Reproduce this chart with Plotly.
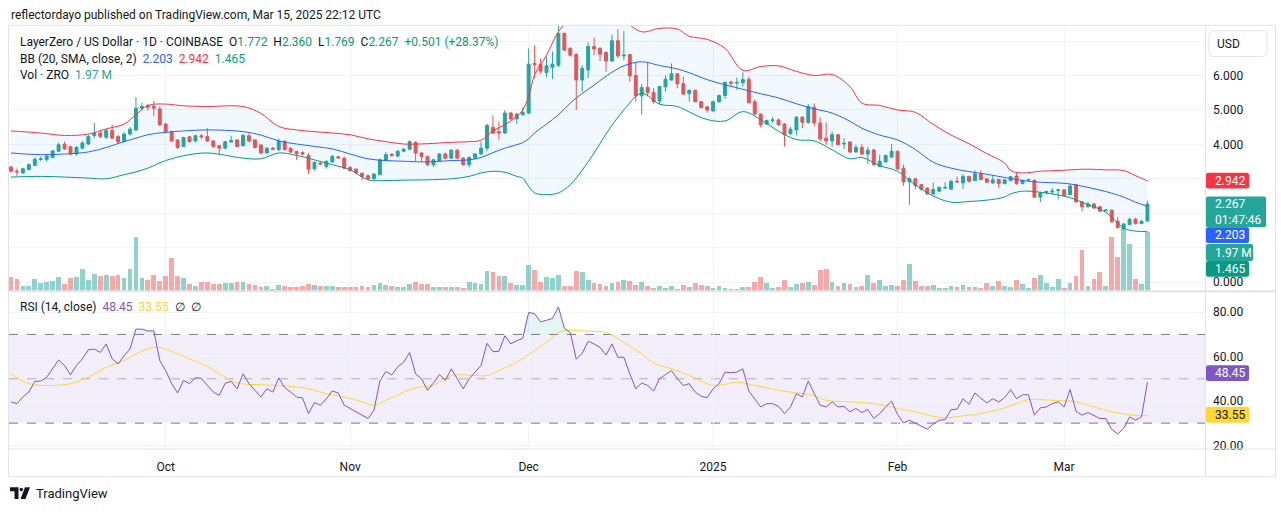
import plotly.graph_objects as go
import pandas as pd
import numpy as np

W, H = 1281, 515

dates = pd.date_range("2024-09-05", periods=192, freq="D")

opens = [3.34,3.22,3.17,3.27,3.39,3.56,3.56,3.62,3.80,4.00,
         3.93,3.72,3.89,4.01,4.26,4.33,4.21,4.40,4.23,4.09,
         4.30,4.42,5.05,5.12,5.10,5.03,4.59,4.37,4.13,3.94,
         4.22,4.10,4.25,4.23,4.10,3.96,3.89,4.07,4.13,3.96,
         4.25,4.13,3.98,3.75,3.89,3.85,4.09,3.88,3.79,3.76,
         3.68,3.29,3.46,3.36,3.49,3.64,3.60,3.33,3.28,3.16,
         3.09,3.00,3.12,3.53,3.71,3.66,3.80,3.86,4.06,3.75,
         3.65,3.41,3.52,3.72,3.60,3.83,3.60,3.41,3.60,3.72,
         3.89,4.50,4.37,4.33,4.91,4.74,4.86,4.91,6.35,6.32,
         6.09,6.24,6.30,7.22,6.79,6.61,5.87,6.16,6.84,6.79,
         6.67,6.42,7.01,6.57,6.61,6.00,5.41,5.65,5.51,5.26,
         5.67,5.87,6.05,5.76,5.47,5.57,5.24,5.09,4.97,5.24,
         5.42,5.81,5.78,5.79,5.89,5.24,4.88,4.59,4.69,4.71,
         4.59,4.31,4.42,4.79,4.64,5.08,4.62,4.18,4.10,4.28,
         4.01,4.07,3.78,3.91,3.72,3.84,3.36,3.49,3.63,3.80,
         3.31,2.91,3.00,2.83,2.73,2.56,2.64,2.73,2.70,2.93,
         2.88,3.07,2.95,3.14,3.00,2.88,2.98,2.86,2.95,3.08,
         2.86,2.96,2.95,2.47,2.60,2.62,2.66,2.68,2.54,2.83,
         2.33,2.19,2.27,2.19,2.08,2.09,1.77,1.56,1.67,1.83,
         1.70,1.772]
highs = [3.38,3.30,3.32,3.45,3.62,3.65,3.72,3.84,4.05,4.08,
         3.96,3.95,4.10,4.28,4.63,4.40,4.45,4.58,4.27,4.35,
         4.50,5.37,5.22,5.18,5.26,5.10,4.62,4.40,4.15,4.22,
         4.25,4.28,4.30,4.47,4.12,3.98,4.10,4.25,4.15,4.30,
         4.32,4.15,4.00,3.92,3.93,4.17,4.12,3.92,3.82,3.80,
         3.75,3.50,3.50,3.53,3.70,3.66,3.64,3.36,3.30,3.18,
         3.12,3.16,3.58,3.78,3.75,3.84,3.89,4.12,4.09,3.78,
         3.67,3.58,3.75,3.76,3.86,3.86,3.63,3.65,3.75,4.07,
         4.60,4.84,4.65,5.00,4.95,4.92,5.07,6.79,6.88,6.50,
         6.55,6.70,7.46,7.25,6.82,6.65,6.30,6.96,7.10,6.82,
         6.70,7.19,7.34,7.29,6.63,6.37,5.75,6.37,5.63,5.70,
         6.00,6.35,6.07,5.97,5.60,5.59,5.26,5.11,5.27,5.45,
         5.83,5.85,5.94,6.09,5.97,5.31,4.90,4.72,4.80,4.75,
         4.62,4.51,4.82,4.82,5.17,5.19,4.79,4.64,4.37,4.30,
         4.18,4.09,3.99,4.01,3.93,3.86,3.70,3.70,4.01,3.81,
         3.41,3.04,3.02,2.85,2.75,2.90,2.78,2.90,2.96,3.07,
         3.14,3.09,3.25,3.25,3.02,3.10,3.00,2.99,3.08,3.17,
         2.98,3.00,2.99,2.61,2.66,2.73,2.70,2.70,2.85,2.85,
         2.35,2.33,2.29,2.21,2.12,2.11,1.88,1.71,1.88,1.86,
         1.80,2.360]
lows = [3.18,3.08,3.15,3.24,3.37,3.52,3.50,3.60,3.78,3.84,
        3.68,3.67,3.86,3.98,4.18,4.18,4.16,4.15,4.02,4.05,
        4.25,4.38,4.98,4.98,4.83,4.53,4.32,4.07,3.86,3.92,
        4.05,4.06,4.15,4.07,3.90,3.70,3.86,4.06,3.92,3.94,
        4.05,3.88,3.71,3.72,3.83,3.80,3.82,3.75,3.55,3.68,
        3.14,3.24,3.40,3.30,3.47,3.58,3.28,3.20,3.13,2.95,
        2.96,2.98,3.10,3.51,3.64,3.62,3.77,3.84,3.51,3.51,
        3.37,3.35,3.50,3.57,3.58,3.57,3.38,3.33,3.58,3.70,
        3.80,4.30,4.13,4.30,4.70,4.60,4.84,4.88,5.92,6.05,
        5.95,5.90,6.25,6.70,6.55,5.00,5.53,5.92,6.59,6.42,
        6.11,6.40,6.50,6.45,5.82,5.24,4.86,5.39,5.18,5.15,
        5.53,5.85,5.63,5.44,5.24,5.22,5.04,4.92,4.95,5.21,
        5.32,5.66,5.58,5.67,5.19,4.85,4.49,4.56,4.62,4.54,
        3.94,4.28,4.26,4.47,4.60,4.52,4.10,3.99,3.94,3.97,
        3.87,3.75,3.76,3.70,3.43,3.39,3.34,3.47,3.61,3.27,
        2.80,2.25,2.69,2.66,2.54,2.54,2.62,2.70,2.68,2.88,
        2.70,2.88,2.93,2.96,2.88,2.86,2.73,2.84,2.93,2.83,
        2.84,2.94,2.44,2.32,2.55,2.55,2.40,2.50,2.52,2.30,
        2.05,2.17,2.13,2.04,2.06,1.73,1.56,1.50,1.65,1.67,
        1.68,1.769]
closes = [3.22,3.20,3.29,3.41,3.57,3.58,3.66,3.81,3.99,3.87,
          3.72,3.91,4.04,4.23,4.32,4.23,4.40,4.18,4.07,4.30,
          4.44,5.05,5.10,5.08,5.05,4.57,4.37,4.10,3.91,4.20,
          4.08,4.25,4.22,4.10,3.94,3.89,4.08,4.11,3.94,4.26,
          4.10,3.91,3.75,3.89,3.86,4.09,3.85,3.78,3.73,3.72,
          3.28,3.48,3.43,3.51,3.65,3.61,3.31,3.24,3.17,3.07,
          3.00,3.14,3.55,3.70,3.68,3.80,3.86,4.08,3.75,3.65,
          3.41,3.55,3.72,3.60,3.83,3.60,3.41,3.62,3.72,3.89,
          4.55,4.33,4.33,4.91,4.74,4.88,4.93,6.33,6.31,6.13,
          6.28,6.33,7.22,6.74,6.59,5.87,6.21,6.84,6.77,6.62,
          6.42,7.01,6.57,6.59,5.99,5.41,5.65,5.51,5.24,5.68,
          5.89,6.05,5.76,5.46,5.57,5.24,5.07,5.00,5.24,5.42,
          5.80,5.78,5.80,5.88,5.21,4.88,4.57,4.69,4.71,4.57,
          4.28,4.44,4.79,4.64,5.10,4.62,4.16,4.10,4.28,3.99,
          4.03,3.78,3.91,3.72,3.83,3.41,3.51,3.68,3.80,3.29,
          2.91,3.00,2.80,2.69,2.56,2.69,2.75,2.75,2.93,2.91,
          3.07,2.93,3.14,2.98,2.90,2.97,2.86,2.97,3.06,2.86,
          2.95,2.97,2.47,2.59,2.63,2.64,2.68,2.52,2.79,2.33,
          2.19,2.27,2.15,2.06,2.09,1.75,1.58,1.69,1.82,1.70,
          1.766,2.267]
volumes_m = [0.46,0.40,0.18,0.18,0.40,0.27,0.30,0.33,0.48,0.24,
             0.44,0.48,0.73,0.37,0.57,0.51,0.53,0.50,0.53,0.43,
             0.73,1.80,0.43,0.36,0.52,0.32,0.51,1.11,0.51,0.43,
             0.22,0.17,0.29,0.29,0.24,0.24,0.27,0.27,0.30,0.30,
             0.24,0.20,0.13,0.16,0.08,0.19,0.17,0.12,0.12,0.16,
             0.24,0.20,0.16,0.18,0.18,0.14,0.12,0.12,0.12,0.17,
             0.12,0.20,0.27,0.20,0.17,0.13,0.14,0.23,0.30,0.24,
             0.23,0.14,0.14,0.14,0.14,0.14,0.11,0.30,0.27,0.24,
             0.68,0.63,0.51,0.51,0.27,0.21,0.21,0.87,0.70,0.30,
             0.47,0.44,0.53,0.17,0.17,0.67,0.63,0.37,0.27,0.24,
             0.18,0.27,0.30,0.37,0.33,0.20,0.30,0.17,0.10,0.17,
             0.10,0.17,0.07,0.20,0.13,0.27,0.20,0.17,0.10,0.17,
             0.10,0.07,0.07,0.13,0.13,0.30,0.47,0.27,0.10,0.13,
             0.37,0.13,0.23,0.27,0.30,0.20,0.70,0.73,0.30,0.17,
             0.27,0.23,0.13,0.17,0.53,0.27,0.37,0.17,0.20,0.17,
             0.37,0.90,0.33,0.17,0.17,0.20,0.10,0.10,0.17,0.13,
             0.20,0.13,0.13,0.10,0.27,0.17,0.33,0.17,0.13,0.37,
             0.23,0.10,0.43,0.53,0.27,0.13,0.40,0.10,0.27,0.50,
             1.37,0.17,0.40,0.63,0.17,1.80,1.13,2.13,1.57,0.40,
             0.23,1.97]
rsi = [39.6,38.8,41.8,44.0,48.8,49.0,50.7,54.5,58.5,56.0,
       51.8,56.0,59.0,63.1,63.4,61.9,65.7,59.0,56.7,60.4,
       63.4,72.4,72.4,71.6,71.6,58.2,53.7,47.8,43.6,49.3,
       47.8,50.5,50.2,47.0,44.0,42.5,48.0,48.8,45.5,52.2,
       47.8,44.8,41.8,45.5,44.0,50.4,46.0,44.0,41.8,41.3,
       34.3,39.3,38.1,41.0,44.5,43.6,38.1,36.6,35.1,33.6,
       32.1,35.8,49.0,53.3,51.7,55.5,57.5,61.9,52.2,50.0,
       44.8,48.1,51.9,49.3,54.5,50.0,45.5,50.0,53.0,56.0,
       66.0,62.2,62.4,69.4,65.7,67.2,68.2,79.9,79.4,75.7,
       76.4,77.2,82.4,72.8,70.9,58.8,61.5,66.9,65.7,64.2,
       60.7,65.7,59.7,59.7,52.2,45.5,48.1,47.0,44.5,50.0,
       51.9,53.7,50.0,47.0,47.8,44.0,42.1,41.5,45.5,47.8,
       53.0,52.7,53.0,54.5,44.5,40.6,37.3,38.8,38.8,37.6,
       34.3,37.3,43.3,41.8,49.0,43.3,38.1,37.3,39.6,37.3,
       37.6,35.1,36.6,34.8,36.1,32.1,34.3,37.3,39.9,33.9,
       30.1,31.3,29.9,28.7,27.3,29.6,31.3,31.6,36.1,36.3,
       41.0,38.5,43.6,41.3,39.1,41.0,39.6,41.5,45.1,41.0,
       42.8,42.8,33.6,36.9,37.3,38.8,39.6,37.3,45.1,35.4,
       33.6,34.8,33.6,32.1,32.1,27.2,25.1,27.6,32.8,31.3,
       32.8,48.45]

# Bollinger bands at sample candles
bb_idx = [0,5,9,13,16,19,21,23,26,29,33,39,42,45,48,51,54,57,60,63,
          66,70,74,77,79,81,83,85,86,87,88,90,92,94,96,98,100,103,106,109,
          112,114,117,120,123,126,129,132,135,138,141,143,146,149,152,155,158,161,164,167,
          168,170,173,176,178,181,184,187,189,191]
bb_upper = [4.39,4.33,4.26,4.30,4.45,4.59,4.86,5.13,5.17,5.12,5.10,5.10,4.90,4.52,4.42,4.37,4.33,4.28,4.16,4.08,
            4.01,4.02,4.06,4.08,4.12,4.39,4.57,4.81,5.00,5.39,6.02,6.59,7.27,7.65,7.90,8.00,7.90,7.60,7.27,7.37,
            7.35,7.14,7.05,6.79,6.15,6.26,6.28,6.12,6.00,6.03,5.68,5.20,5.13,5.00,4.93,4.58,4.27,4.02,3.73,3.46,
            3.24,3.17,3.22,3.24,3.26,3.28,3.26,3.24,3.09,2.942]
bb_mid = [3.75,3.70,3.72,3.78,3.91,4.08,4.18,4.28,4.35,4.39,4.42,4.37,4.27,4.10,4.01,3.94,3.87,3.72,3.58,3.53,
          3.51,3.49,3.53,3.55,3.62,3.76,3.89,3.99,4.05,4.16,4.33,4.59,4.86,5.20,5.48,5.72,5.98,6.28,6.40,6.29,
          6.19,6.08,5.88,5.73,5.60,5.47,5.35,5.18,5.03,4.91,4.67,4.47,4.27,4.13,3.85,3.48,3.31,3.21,3.13,3.04,
          3.01,2.95,2.90,2.88,2.85,2.75,2.63,2.47,2.32,2.203]
bb_lower = [3.05,3.07,3.05,3.02,3.00,3.12,3.20,3.31,3.53,3.67,3.75,3.60,3.58,3.75,3.68,3.55,3.41,3.26,2.97,2.95,
            2.96,2.97,3.00,3.07,3.17,3.22,3.19,3.07,3.02,2.78,2.59,2.54,2.59,2.83,3.25,3.75,4.30,5.00,5.48,5.17,
            5.10,4.94,4.72,4.68,4.95,4.72,4.38,4.14,4.10,3.84,3.58,3.62,3.38,3.22,2.82,2.50,2.32,2.34,2.38,2.47,
            2.56,2.64,2.61,2.53,2.45,2.25,2.03,1.57,1.48,1.465]

# RSI moving average read at sample candles
rsima_idx = [0,3,7,10,13,16,19,21,24,26,28,30,33,36,38,42,45,48,50,53,56,59,61,63,66,68,71,74,80,82,
             85,88,91,92,94,96,98,100,103,106,108,111,114,117,118,120,122,125,127,129,132,135,137,141,145,146,149,152,155,157,
             160,162,166,169,171,175,179,182,185,188,190,191]
rsima_val = [52.2,47.8,47.0,47.8,50.7,55.2,58.2,61.2,64.2,63.4,61.2,59.0,55.5,50.7,48.1,47.3,47.0,46.3,45.5,43.3,41.8,39.6,38.1,40.3,44.0,46.0,47.0,51.5,51.5,53.7,
             57.5,62.7,68.7,71.0,71.9,71.6,71.3,70.9,66.4,61.2,57.0,54.5,51.5,47.8,47.0,47.5,48.5,47.0,46.0,44.8,43.6,42.5,40.3,39.6,38.8,38.4,36.6,35.1,33.1,32.4,
             33.3,33.9,36.1,38.8,40.6,40.3,39.6,37.3,35.1,33.9,33.3,33.55]

month_ticks = ["2024-10-01", "2024-11-01", "2024-12-01", "2025-01-01", "2025-02-01", "2025-03-01"]
month_text = ["Oct", "Nov", "Dec", "2025", "Feb", "Mar"]

UP = "#26a69a"
DOWN = "#ef5350"
FONT = "Roboto, sans-serif"
TXT = "#131722"


def px(x):
    return x / W


def py(y):
    return 1 - y / H


# pixel geometry
X0, X1 = 9, 1205
MAIN_TOP, MAIN_BOT = 26, 293
RSI_TOP, RSI_BOT = 294, 452
day_px = 5.95
first_x = 11
t0 = pd.Timestamp("2024-09-05")
x_start = t0 - pd.Timedelta(days=(first_x - X0) / day_px)
x_end = t0 + pd.Timedelta(days=(X1 - first_x) / day_px)

fig = go.Figure()

vol_colors = ["rgba(38,166,154,0.5)" if c >= o else "rgba(239,83,80,0.5)" for o, c in zip(opens, closes)]
fig.add_trace(go.Bar(x=dates, y=volumes_m, marker=dict(color=vol_colors, line=dict(width=0)),
                     width=0.8 * 86400000, xaxis="x", yaxis="y", showlegend=False))

bb_dates = [dates[i] for i in bb_idx]
fig.add_trace(go.Scatter(x=bb_dates, y=bb_upper, mode="lines", line=dict(color="#f23645", width=1, shape="spline"),
                         xaxis="x", yaxis="y2", showlegend=False))
fig.add_trace(go.Scatter(x=bb_dates, y=bb_lower, mode="lines", line=dict(color="#089981", width=1, shape="spline"),
                         fill="tonexty", fillcolor="rgba(33,150,243,0.06)",
                         xaxis="x", yaxis="y2", showlegend=False))
fig.add_trace(go.Scatter(x=bb_dates, y=bb_mid, mode="lines", line=dict(color="#2962ff", width=1, shape="spline"),
                         xaxis="x", yaxis="y2", showlegend=False))

fig.add_trace(go.Candlestick(x=dates, open=opens, high=highs, low=lows, close=closes,
                             increasing=dict(line=dict(color=UP, width=1), fillcolor=UP),
                             decreasing=dict(line=dict(color=DOWN, width=1), fillcolor=DOWN),
                             whiskerwidth=0, xaxis="x", yaxis="y2", showlegend=False))

# RSI pane
rsi_arr = np.array(rsi)
fig.add_trace(go.Scatter(x=dates, y=[70] * len(dates), mode="lines", line=dict(width=0, color="rgba(0,0,0,0)"),
                         xaxis="x2", yaxis="y3", showlegend=False))
fig.add_trace(go.Scatter(x=dates, y=np.maximum(rsi_arr, 70), mode="lines", line=dict(width=0, color="rgba(0,0,0,0)"),
                         fill="tonexty", fillcolor="rgba(8,153,129,0.10)", xaxis="x2", yaxis="y3", showlegend=False))
fig.add_trace(go.Scatter(x=dates, y=[30] * len(dates), mode="lines", line=dict(width=0, color="rgba(0,0,0,0)"),
                         xaxis="x2", yaxis="y3", showlegend=False))
fig.add_trace(go.Scatter(x=dates, y=np.minimum(rsi_arr, 30), mode="lines", line=dict(width=0, color="rgba(0,0,0,0)"),
                         fill="tonexty", fillcolor="rgba(242,54,69,0.08)", xaxis="x2", yaxis="y3", showlegend=False))
fig.add_trace(go.Scatter(x=[dates[i] for i in rsima_idx], y=rsima_val, mode="lines",
                         line=dict(color="#fdd835", width=1, shape="spline"), xaxis="x2", yaxis="y3", showlegend=False))
fig.add_trace(go.Scatter(x=dates, y=rsi, mode="lines", line=dict(color="#7e57c2", width=1),
                         xaxis="x2", yaxis="y3", showlegend=False))

grid = "#f0f3fa"
axis_common = dict(showline=False, zeroline=False, gridcolor=grid, gridwidth=1)

fig.update_layout(
    width=W, height=H, margin=dict(l=0, r=0, t=0, b=0),
    paper_bgcolor="white", plot_bgcolor="white",
    hovermode=False, showlegend=False, bargap=0,
    font=dict(family=FONT, color=TXT, size=12),
    xaxis=dict(domain=[px(X0), px(X1)], range=[x_start, x_end], type="date", anchor="y",
               tickvals=month_ticks, showticklabels=False, ticks="", showgrid=True,
               rangeslider=dict(visible=False), **axis_common),
    xaxis2=dict(domain=[px(X0), px(X1)], range=[x_start, x_end], type="date", anchor="y3", matches="x",
                tickvals=month_ticks, ticktext=month_text, ticks="", showgrid=True,
                tickfont=dict(size=12, color=TXT, family=FONT), ticklabelstandoff=10, **axis_common),
    yaxis=dict(domain=[py(MAIN_BOT), py(MAIN_TOP)], range=[0, 8.9], visible=False, showgrid=False, fixedrange=True),
    yaxis2=dict(overlaying="y", side="right", anchor="x",
                range=[(284.3 - MAIN_BOT) / 34.7, (284.3 - MAIN_TOP) / 34.7],
                tickvals=[0, 1, 2, 3, 4, 5, 6, 7],
                ticktext=["0.000", "", "", "", "4.000", "5.000", "6.000", ""],
                ticks="", showgrid=True, tickfont=dict(size=12, color=TXT, family=FONT),
                ticklabelstandoff=7, **axis_common),
    yaxis3=dict(domain=[py(RSI_BOT), py(RSI_TOP)], side="right", anchor="x2",
                range=[80 - (RSI_BOT - 314.7) / 2.235, 80 + (314.7 - RSI_TOP) / 2.235],
                tickvals=[20, 40, 60, 80], ticktext=["20.00", "40.00", "60.00", "80.00"],
                ticks="", showgrid=True, tickfont=dict(size=12, color=TXT, family=FONT),
                ticklabelstandoff=7, **axis_common),
)

shapes = []
# RSI band background and level lines
shapes.append(dict(type="rect", xref="paper", yref="y3", x0=px(X0), x1=px(X1), y0=30, y1=70,
                   fillcolor="rgba(126,87,194,0.1)", line=dict(width=0), layer="below"))
for lvl, col in [(70, "#787b86"), (30, "#787b86"), (50, "rgba(120,123,134,0.55)")]:
    shapes.append(dict(type="line", xref="paper", yref="y3", x0=px(X0), x1=px(X1), y0=lvl, y1=lvl,
                       line=dict(color=col, width=1, dash="dash"), layer="between"))
# frame lines
frame = "#e0e3eb"
shapes.append(dict(type="rect", xref="paper", yref="paper", x0=px(8.5), x1=px(1275.5), y0=py(480.5), y1=py(25.5),
                   line=dict(color=frame, width=1), layer="above"))
shapes.append(dict(type="line", xref="paper", yref="paper", x0=px(1205.5), x1=px(1205.5), y0=py(480.5), y1=py(25.5),
                   line=dict(color=frame, width=1), layer="above"))
shapes.append(dict(type="line", xref="paper", yref="paper", x0=px(8.5), x1=px(1275.5), y0=py(293.5), y1=py(293.5),
                   line=dict(color=frame, width=2), layer="above"))
shapes.append(dict(type="line", xref="paper", yref="paper", x0=px(8.5), x1=px(1275.5), y0=py(452.5), y1=py(452.5),
                   line=dict(color=frame, width=1), layer="above"))


def rrect(x0, y0, x1, y1, r):
    s = f"M {px(x0 + r)},{py(y0)} L {px(x1 - r)},{py(y0)} Q {px(x1)},{py(y0)} {px(x1)},{py(y0 + r)} "
    s += f"L {px(x1)},{py(y1 - r)} Q {px(x1)},{py(y1)} {px(x1 - r)},{py(y1)} "
    s += f"L {px(x0 + r)},{py(y1)} Q {px(x0)},{py(y1)} {px(x0)},{py(y1 - r)} "
    s += f"L {px(x0)},{py(y0 + r)} Q {px(x0)},{py(y0)} {px(x0 + r)},{py(y0)} Z"
    return s


# USD box
shapes.append(dict(type="path", xref="paper", yref="paper", path=rrect(1209, 31, 1267, 57, 5),
                   line=dict(color=frame, width=1), fillcolor="white", layer="above"))

# TradingView logo glyph
logo_col = "#131722"
shapes.append(dict(type="path", xref="paper", yref="paper",
                   path=f"M {px(10)},{py(491)} L {px(18.5)},{py(491)} L {px(18.5)},{py(503)} L {px(14.5)},{py(503)} "
                        f"L {px(14.5)},{py(495)} L {px(10)},{py(495)} Z",
                   fillcolor=logo_col, line=dict(width=0), layer="above"))
shapes.append(dict(type="circle", xref="paper", yref="paper", x0=px(19.5), x1=px(23), y0=py(495), y1=py(491.5),
                   fillcolor=logo_col, line=dict(width=0), layer="above"))
shapes.append(dict(type="path", xref="paper", yref="paper",
                   path=f"M {px(25)},{py(491)} L {px(30)},{py(491)} L {px(25.5)},{py(503)} L {px(20.5)},{py(503)} Z",
                   fillcolor=logo_col, line=dict(width=0), layer="above"))

annotations = []


def text(x, y, s, size=12, color=TXT, anchor="left"):
    annotations.append(dict(xref="paper", yref="paper", x=px(x), y=py(y), text=s, showarrow=False,
                            xanchor=anchor, yanchor="middle", align="left",
                            font=dict(family=FONT, size=size, color=color)))


NB = "\u00a0"
G = "#089981"
text(9, 15, "reflectordayo published on TradingView.com, Mar 15, 2025 22:12 UTC", size=12)
text(18, 42, f"LayerZero / US Dollar · 1D · COINBASE{NB}{NB}O<span style='color:{G}'>1.772</span>{NB}{NB}"
             f"H<span style='color:{G}'>2.360</span>{NB}{NB}L<span style='color:{G}'>1.769</span>{NB}{NB}"
             f"C<span style='color:{G}'>2.267</span>{NB}{NB}<span style='color:{G}'>+0.501 (+28.37%)</span>")
text(18, 59, f"BB (20, SMA, close, 2){NB}{NB}<span style='color:#2962ff'>2.203</span>{NB}{NB}"
             f"<span style='color:#f23645'>2.942</span>{NB}{NB}<span style='color:{G}'>1.465</span>")
text(18, 76, f"Vol · ZRO{NB}{NB}<span style='color:#26a69a'>1.97{NB}M</span>")
text(18, 309, f"RSI (14, close){NB}{NB}<span style='color:#7e57c2'>48.45</span>{NB}{NB}"
              f"<span style='color:#fdd835'>33.55</span>{NB}{NB}∅{NB}{NB}∅")
text(1215, 44, "USD", size=12)
text(34, 497, "TradingView", size=13)


def tag(y0, y1, s, bg, fg="white", x1=1249):
    shapes.append(dict(type="path", xref="paper", yref="paper", path=rrect(1206, y0, x1, y1, 2),
                       fillcolor=bg, line=dict(width=0), layer="above"))
    annotations.append(dict(xref="paper", yref="paper", x=px(1213), y=py((y0 + y1) / 2), text=s, showarrow=False,
                            xanchor="left", yanchor="middle", align="left",
                            font=dict(family=FONT, size=12, color=fg)))


tag(174, 190, "2.942", "#f23645")
tag(198, 229, "2.267<br>01:47:46", "#26a69a", x1=1266)
tag(229, 245, "2.203", "#2962ff")
tag(246, 263, f"1.97{NB}M", "#26a69a", x1=1253)
tag(263, 279, "1.465", "#089981")
tag(368, 384, "48.45", "#7e57c2")
tag(410, 426, "33.55", "#fdd835", fg=TXT)

fig.update_layout(shapes=shapes, annotations=annotations)
fig.write_html("out.html")
